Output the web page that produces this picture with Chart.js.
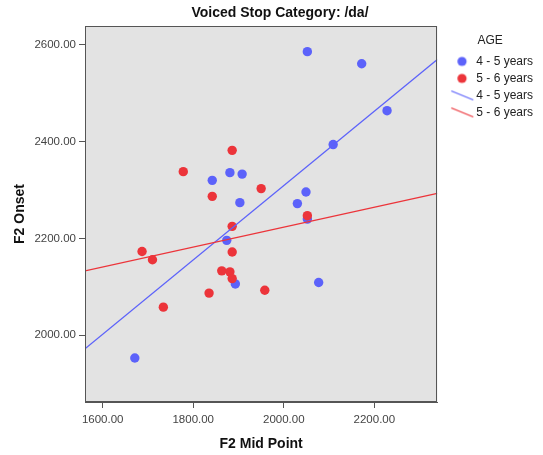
<!DOCTYPE html>
<html lang="en">
<head>
    <meta charset="UTF-8">
    <title>Voiced Stop Category: /da/</title>
    <script src="https://cdn.jsdelivr.net/npm/chart.js"></script>
    <style>
        html, body { margin: 0; padding: 0; background: #fff; }
        #wrap { width: 543px; height: 455px; }
    </style>
</head>
<body>
<div id="wrap"><canvas id="scatter"></canvas></div>
<script>
    // F2 mid point (x) / F2 onset (y), per age group
    const youngX = [2052, 2172, 2228, 2109, 2049, 2030, 2077, 1842, 1881, 1908, 1903, 1874, 1893, 1671, 2052];
    const youngY = [2586, 2561, 2464, 2394, 2296, 2272, 2109, 2320, 2336, 2333, 2274, 2196, 2106, 1953, 2240];
    const olderX = [1886, 1778, 1842, 1950, 1886, 1886, 1687, 1710, 1863, 1881, 1886, 1835, 1958, 1734, 2052];
    const olderY = [2382, 2338, 2287, 2303, 2225, 2172, 2173, 2156, 2133, 2131, 2117, 2087, 2093, 2058, 2247];

    // fit lines, read at the left and right edge of the plot
    const fitX = [1561, 2339];
    const youngFit = [1972, 2570];
    const olderFit = [2133, 2293];

    const xTicks = [1600, 1800, 2000, 2200];
    const yTicks = [2000, 2200, 2400, 2600];
    const groups = ['4 - 5 years', '5 - 6 years'];

    const BLUE = 'rgb(92, 98, 250)';
    const RED = 'rgb(236, 52, 58)';
    const FONT = "'Liberation Sans', Arial, sans-serif";

    const pairs = (xs, ys) => xs.map((x, i) => ({ x: x, y: ys[i] }));

    // legend symbols (drawn as small canvases so the line one can be slanted)
    function dotIcon(color) {
        const c = document.createElement('canvas');
        c.width = 40; c.height = 12;
        const g = c.getContext('2d');
        g.fillStyle = color;
        g.beginPath();
        g.arc(25.7, 6, 4.6, 0, Math.PI * 2);
        g.fill();
        return c;
    }
    function lineIcon(color) {
        const c = document.createElement('canvas');
        c.width = 40; c.height = 12;
        const g = c.getContext('2d');
        g.strokeStyle = color;
        g.lineWidth = 1.2;
        g.beginPath();
        g.moveTo(15, 1.5);
        g.lineTo(37, 10.5);
        g.stroke();
        return c;
    }

    const plotFrame = {
        id: 'plotFrame',
        beforeDraw(chart) {
            const a = chart.chartArea, ctx = chart.ctx;
            ctx.save();
            ctx.fillStyle = '#e3e3e3';
            ctx.fillRect(a.left, a.top, a.right - a.left, a.bottom - a.top);
            ctx.restore();
        },
        afterDraw(chart) {
            const a = chart.chartArea, ctx = chart.ctx;
            ctx.save();
            ctx.strokeStyle = '#555';
            ctx.lineWidth = 1;
            ctx.strokeRect(Math.round(a.left) + 0.5, Math.round(a.top) + 0.5,
                Math.round(a.right - a.left) - 1, Math.round(a.bottom - a.top) - 1);
            // chart title
            ctx.fillStyle = '#111';
            ctx.font = 'bold 14px ' + FONT;
            ctx.textAlign = 'center';
            ctx.textBaseline = 'middle';
            ctx.fillText('Voiced Stop Category: /da/', 280, 13);
            ctx.restore();
        }
    };

    const axisCommon = {
        type: 'linear',
        grid: { display: true, drawOnChartArea: false, drawTicks: true, tickLength: 6, color: '#555' },
        border: { display: true, color: '#555', width: 1 },
        ticks: {
            font: { family: FONT, size: 11.5 },
            color: '#444',
            padding: 5,
            maxRotation: 0,
            callback: v => v.toFixed(2)
        }
    };

    new Chart(document.getElementById('scatter'), {
        type: 'scatter',
        data: {
            datasets: [
                {
                    label: groups[1] + ' fit', type: 'line', order: 0,
                    data: pairs(fitX, olderFit),
                    borderColor: RED, borderWidth: 1.3, pointRadius: 0, fill: false
                },
                {
                    label: groups[0] + ' fit', type: 'line', order: 1,
                    data: pairs(fitX, youngFit),
                    borderColor: BLUE, borderWidth: 1.3, pointRadius: 0, fill: false
                },
                {
                    label: groups[1], order: 2,
                    data: pairs(olderX, olderY),
                    backgroundColor: RED, borderWidth: 0, pointRadius: 4.7, pointHoverRadius: 4.7
                },
                {
                    label: groups[0], order: 3,
                    data: pairs(youngX, youngY),
                    backgroundColor: BLUE, borderWidth: 0, pointRadius: 4.7, pointHoverRadius: 4.7
                }
            ]
        },
        options: {
            responsive: true,
            maintainAspectRatio: false,
            animation: false,
            layout: { padding: { top: 26, left: 0, right: 0, bottom: 0 } },
            plugins: {
                tooltip: { enabled: false },
                legend: {
                    position: 'right',
                    align: 'start',
                    title: {
                        display: true, text: 'AGE', color: '#222',
                        font: { family: FONT, size: 12 },
                        padding: { top: 9, bottom: 1 }
                    },
                    labels: {
                        usePointStyle: true,
                        pointStyleWidth: 28,
                        padding: 5,
                        color: '#222',
                        font: { family: FONT, size: 12 },
                        generateLabels: () => [
                            { text: groups[0], pointStyle: dotIcon(BLUE), fillStyle: BLUE, strokeStyle: BLUE, lineWidth: 0 },
                            { text: groups[1], pointStyle: dotIcon(RED), fillStyle: RED, strokeStyle: RED, lineWidth: 0 },
                            { text: groups[0], pointStyle: lineIcon(BLUE), fillStyle: BLUE, strokeStyle: BLUE, lineWidth: 0 },
                            { text: groups[1], pointStyle: lineIcon(RED), fillStyle: RED, strokeStyle: RED, lineWidth: 0 }
                        ]
                    }
                }
            },
            scales: {
                x: Object.assign({}, axisCommon, {
                    min: 1561, max: 2339,
                    afterBuildTicks: s => { s.ticks = xTicks.map(v => ({ value: v })); },
                    afterFit: s => { s.height = 53; },
                    title: {
                        display: true, text: 'F2 Mid Point', color: '#111',
                        font: { family: FONT, size: 14, weight: 'bold' },
                        padding: { top: 6, bottom: 2 }
                    }
                }),
                y: Object.assign({}, axisCommon, {
                    min: 1862, max: 2639,
                    afterBuildTicks: s => { s.ticks = yTicks.map(v => ({ value: v })); },
                    afterFit: s => { s.width = 85; },
                    ticks: Object.assign({}, axisCommon.ticks, { padding: 3 }),
                    title: {
                        display: true, text: 'F2 Onset', color: '#111',
                        font: { family: FONT, size: 14, weight: 'bold' },
                        padding: { top: 12, bottom: 4 }
                    }
                })
            }
        },
        plugins: [plotFrame]
    });
</script>
</body>
</html>
